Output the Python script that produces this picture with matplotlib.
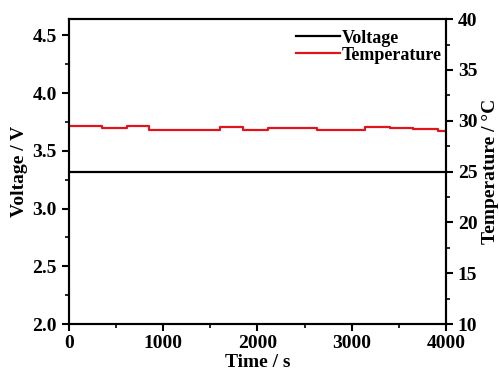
import numpy as np
import matplotlib.pyplot as plt
from matplotlib.ticker import MultipleLocator

plt.rcParams['font.family'] = 'Liberation Serif'
plt.rcParams['font.weight'] = 'bold'

# voltage held constant during the test
volt_t = [0, 4000]
volt = [3.32, 3.32]

# temperature steps (time in s, temperature in C)
temp_t = [0, 350, 615, 850, 1600, 1850, 2110, 2630, 3140, 3400, 3650, 3915, 4000]
temp = [29.45, 29.3, 29.45, 29.1, 29.35, 29.1, 29.25, 29.1, 29.37, 29.27, 29.17, 29.0, 29.0]

fig = plt.figure(figsize=(4.99, 3.76), dpi=100)
ax = fig.add_axes([0.138, 0.138, 0.756, 0.811])
ax2 = ax.twinx()

l1, = ax.plot(volt_t, volt, color='black', lw=1.6, label='Voltage')
l2, = ax2.plot(temp_t, temp, color='#e0141a', lw=1.6, drawstyle='steps-post', label='Temperature')

ax.set_xlim(0, 4000)
ax.set_ylim(2.0, 4.64)
ax2.set_ylim(10, 40)

ax.xaxis.set_major_locator(MultipleLocator(1000))
ax.xaxis.set_minor_locator(MultipleLocator(500))
ax.yaxis.set_major_locator(MultipleLocator(0.5))
ax.yaxis.set_minor_locator(MultipleLocator(0.25))
ax2.yaxis.set_major_locator(MultipleLocator(5))
ax2.yaxis.set_minor_locator(MultipleLocator(2.5))
ax.set_yticks([2.0, 2.5, 3.0, 3.5, 4.0, 4.5])
ax.set_yticklabels(['2.0', '2.5', '3.0', '3.5', '4.0', '4.5'])

for a in (ax, ax2):
    for s in a.spines.values():
        s.set_linewidth(1.5)
    a.tick_params(which='major', direction='out', length=5, width=1.5, labelsize=14)
    a.tick_params(which='minor', direction='out', length=3, width=1.2)
ax.tick_params(axis='x', pad=3)

ax.set_xlabel('Time / s', fontsize=14, fontweight='bold', labelpad=1)
ax.set_ylabel('Voltage / V', fontsize=14, fontweight='bold', labelpad=3)
ax2.set_ylabel('Temperature / \u00b0C', fontsize=14, fontweight='bold', labelpad=3)

leg = ax.legend(handles=[l1, l2], loc='upper right', bbox_to_anchor=(1.0, 0.98), frameon=False,
                handlelength=2.4, handletextpad=0.1, labelspacing=0.0,
                borderaxespad=0.0, borderpad=0.25, prop={'weight': 'bold', 'size': 13})

fig.savefig('out.png', dpi=100)
